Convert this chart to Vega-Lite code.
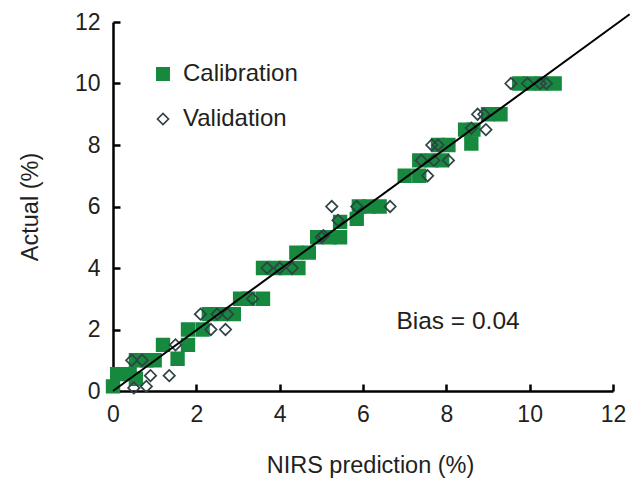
{
  "$schema": "https://vega.github.io/schema/vega-lite/v6.json",
  "width": 500,
  "height": 369,
  "autosize": {"type": "none"},
  "padding": {"left": 113, "top": 22, "right": 25, "bottom": 88},
  "background": "white",
  "config": {"view": {"stroke": null}, "font": "Liberation Sans"},
  "layer": [
    {
      "data": {"values": [
        {"pred": 0.0, "actual": 0.15, "set": "Calibration"},
        {"pred": 0.1, "actual": 0.55, "set": "Calibration"},
        {"pred": 0.4, "actual": 0.55, "set": "Calibration"},
        {"pred": 0.55, "actual": 0.4, "set": "Calibration"},
        {"pred": 0.55, "actual": 1.0, "set": "Calibration"},
        {"pred": 0.8, "actual": 1.0, "set": "Calibration"},
        {"pred": 1.0, "actual": 1.0, "set": "Calibration"},
        {"pred": 1.55, "actual": 1.05, "set": "Calibration"},
        {"pred": 1.2, "actual": 1.5, "set": "Calibration"},
        {"pred": 1.8, "actual": 1.5, "set": "Calibration"},
        {"pred": 1.8, "actual": 2.0, "set": "Calibration"},
        {"pred": 2.15, "actual": 2.0, "set": "Calibration"},
        {"pred": 2.3, "actual": 2.5, "set": "Calibration"},
        {"pred": 2.6, "actual": 2.5, "set": "Calibration"},
        {"pred": 2.9, "actual": 2.5, "set": "Calibration"},
        {"pred": 3.05, "actual": 3.0, "set": "Calibration"},
        {"pred": 3.25, "actual": 3.0, "set": "Calibration"},
        {"pred": 3.6, "actual": 3.0, "set": "Calibration"},
        {"pred": 3.6, "actual": 4.0, "set": "Calibration"},
        {"pred": 3.9, "actual": 4.0, "set": "Calibration"},
        {"pred": 4.15, "actual": 4.0, "set": "Calibration"},
        {"pred": 4.45, "actual": 4.0, "set": "Calibration"},
        {"pred": 4.4, "actual": 4.5, "set": "Calibration"},
        {"pred": 4.7, "actual": 4.5, "set": "Calibration"},
        {"pred": 4.9, "actual": 5.0, "set": "Calibration"},
        {"pred": 5.2, "actual": 5.0, "set": "Calibration"},
        {"pred": 5.45, "actual": 5.0, "set": "Calibration"},
        {"pred": 5.45, "actual": 5.5, "set": "Calibration"},
        {"pred": 5.85, "actual": 5.6, "set": "Calibration"},
        {"pred": 5.9, "actual": 6.0, "set": "Calibration"},
        {"pred": 6.15, "actual": 6.0, "set": "Calibration"},
        {"pred": 6.4, "actual": 6.0, "set": "Calibration"},
        {"pred": 7.0, "actual": 7.0, "set": "Calibration"},
        {"pred": 7.35, "actual": 7.0, "set": "Calibration"},
        {"pred": 7.35, "actual": 7.5, "set": "Calibration"},
        {"pred": 7.65, "actual": 7.5, "set": "Calibration"},
        {"pred": 7.9, "actual": 7.5, "set": "Calibration"},
        {"pred": 7.8, "actual": 8.0, "set": "Calibration"},
        {"pred": 8.05, "actual": 8.0, "set": "Calibration"},
        {"pred": 8.6, "actual": 8.05, "set": "Calibration"},
        {"pred": 8.45, "actual": 8.5, "set": "Calibration"},
        {"pred": 8.65, "actual": 8.5, "set": "Calibration"},
        {"pred": 9.0, "actual": 9.0, "set": "Calibration"},
        {"pred": 9.3, "actual": 9.0, "set": "Calibration"},
        {"pred": 9.75, "actual": 10.0, "set": "Calibration"},
        {"pred": 10.0, "actual": 10.0, "set": "Calibration"},
        {"pred": 10.3, "actual": 10.0, "set": "Calibration"},
        {"pred": 10.6, "actual": 10.0, "set": "Calibration"},
        {"pred": 0.45, "actual": 1.0, "set": "Validation"},
        {"pred": 0.7, "actual": 1.0, "set": "Validation"},
        {"pred": 0.9, "actual": 0.5, "set": "Validation"},
        {"pred": 1.35, "actual": 0.5, "set": "Validation"},
        {"pred": 0.5, "actual": 0.1, "set": "Validation"},
        {"pred": 0.8, "actual": 0.15, "set": "Validation"},
        {"pred": 1.5, "actual": 1.5, "set": "Validation"},
        {"pred": 2.35, "actual": 2.0, "set": "Validation"},
        {"pred": 2.7, "actual": 2.0, "set": "Validation"},
        {"pred": 2.1, "actual": 2.5, "set": "Validation"},
        {"pred": 2.5, "actual": 2.5, "set": "Validation"},
        {"pred": 2.75, "actual": 2.5, "set": "Validation"},
        {"pred": 3.35, "actual": 3.0, "set": "Validation"},
        {"pred": 3.7, "actual": 4.0, "set": "Validation"},
        {"pred": 4.0, "actual": 4.0, "set": "Validation"},
        {"pred": 4.3, "actual": 4.0, "set": "Validation"},
        {"pred": 5.0, "actual": 5.0, "set": "Validation"},
        {"pred": 5.05, "actual": 5.05, "set": "Validation"},
        {"pred": 5.4, "actual": 5.55, "set": "Validation"},
        {"pred": 5.25, "actual": 6.0, "set": "Validation"},
        {"pred": 5.85, "actual": 6.0, "set": "Validation"},
        {"pred": 6.65, "actual": 6.0, "set": "Validation"},
        {"pred": 7.55, "actual": 7.0, "set": "Validation"},
        {"pred": 7.4, "actual": 7.5, "set": "Validation"},
        {"pred": 7.7, "actual": 7.5, "set": "Validation"},
        {"pred": 8.05, "actual": 7.5, "set": "Validation"},
        {"pred": 7.65, "actual": 8.0, "set": "Validation"},
        {"pred": 7.8, "actual": 8.0, "set": "Validation"},
        {"pred": 8.6, "actual": 8.55, "set": "Validation"},
        {"pred": 8.95, "actual": 8.5, "set": "Validation"},
        {"pred": 8.75, "actual": 9.0, "set": "Validation"},
        {"pred": 8.9, "actual": 9.0, "set": "Validation"},
        {"pred": 9.55, "actual": 10.0, "set": "Validation"},
        {"pred": 9.95, "actual": 10.0, "set": "Validation"},
        {"pred": 10.25, "actual": 10.0, "set": "Validation"},
        {"pred": 10.4, "actual": 10.0, "set": "Validation"}
      ]},
      "mark": {"type": "point", "strokeWidth": 1.7, "opacity": 1, "size": 160},
      "encoding": {
        "x": {"field": "pred", "type": "quantitative",
          "scale": {"domain": [0, 12], "nice": false, "zero": false},
          "axis": {"title": "NIRS prediction (%)", "values": [0, 2, 4, 6, 8, 10, 12], "grid": false,
            "tickSize": -7, "tickWidth": 2.5, "tickColor": "black", "domainColor": "black", "domainWidth": 2.5,
            "labelFontSize": 23, "labelColor": "#231f20", "labelPadding": 19, "labelDx": 8,
            "titleFontSize": 23.5, "titleFontWeight": "normal", "titleColor": "#231f20", "titlePadding": 27, "titleX": 257, "labelFlush": false}},
        "y": {"field": "actual", "type": "quantitative",
          "scale": {"domain": [0, 12], "nice": false, "zero": false},
          "axis": {"title": "Actual (%)", "values": [0, 2, 4, 6, 8, 10, 12], "grid": false,
            "tickSize": -7, "tickWidth": 2.5, "tickColor": "black", "domainColor": "black", "domainWidth": 2.5,
            "labelFontSize": 23, "labelColor": "#231f20", "labelPadding": 20,
            "titleFontSize": 23.5, "titleFontWeight": "normal", "titleColor": "#231f20", "titlePadding": 32, "labelFlush": false}},
        "shape": {"field": "set", "type": "nominal",
          "scale": {"domain": ["Calibration", "Validation"], "range": ["M-1,-1H1V1H-1Z", "M-0.9,0L0,-0.9L0.9,0L0,0.9Z"]},
          "legend": {"title": null, "orient": "none", "legendX": 38, "legendY": 40, "labelFontSize": 24, "labelColor": "#231f20",
            "symbolSize": 150, "symbolStrokeWidth": 1.7, "rowPadding": 21, "labelOffset": 8, "padding": 0}},
        "fill": {"field": "set", "type": "nominal",
          "scale": {"domain": ["Calibration", "Validation"], "range": ["#16893f", "transparent"]}},
        "stroke": {"field": "set", "type": "nominal",
          "scale": {"domain": ["Calibration", "Validation"], "range": ["#16893f", "#2f4245"]}}
      }
    },
    {
      "data": {"values": [{"pred": 0, "actual": 0}, {"pred": 12.4, "actual": 12.25}]},
      "mark": {"type": "line", "color": "black", "strokeWidth": 2, "clip": false},
      "encoding": {
        "x": {"field": "pred", "type": "quantitative"},
        "y": {"field": "actual", "type": "quantitative"}
      }
    },
    {
      "data": {"values": [{"pred": 8.28, "actual": 2.24, "label": "Bias = 0.04"}]},
      "mark": {"type": "text", "fontSize": 24.5, "color": "#231f20", "align": "center", "baseline": "middle"},
      "encoding": {
        "x": {"field": "pred", "type": "quantitative"},
        "y": {"field": "actual", "type": "quantitative"},
        "text": {"field": "label"}
      }
    }
  ]
}
